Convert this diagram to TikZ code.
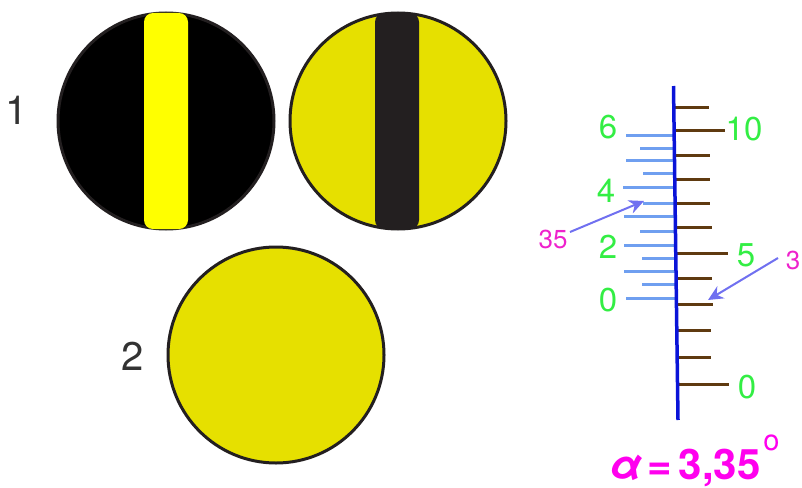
\documentclass[tikz,border=0pt]{standalone}
\usepackage{fontspec}
\setmainfont{TeX Gyre Heros}
\usetikzlibrary{arrows.meta}
\definecolor{diskyellow}{HTML}{E6E000}
\definecolor{stripyellow}{HTML}{FFFF00}
\definecolor{stripdark}{HTML}{231F20}
\definecolor{scaleblue}{HTML}{0A14D8}
\definecolor{vernierblue}{HTML}{6F9FF0}
\definecolor{tickbrown}{HTML}{5F3A10}
\definecolor{labelgreen}{HTML}{33EE44}
\definecolor{labelpink}{HTML}{EE22CC}
\definecolor{resultpink}{HTML}{FF00EE}
\definecolor{pointerblue}{HTML}{7070F0}
\definecolor{numgray}{HTML}{333333}

\begin{document}
\begin{tikzpicture}[
    x=1pt, y=-1pt,
    disk/.style={circle, draw=stripdark, line width=3pt, minimum size=216pt, inner sep=0pt},
    strip/.style={rectangle, rounded corners=9pt, minimum width=44pt, minimum height=216pt, inner sep=0pt},
    num/.style={font=\fontsize{40}{40}\selectfont, text=numgray, inner sep=0pt},
    green/.style={font=\fontsize{33}{33}\selectfont, text=labelgreen, inner sep=0pt},
    pink/.style={font=\fontsize{26}{26}\selectfont, text=labelpink, inner sep=0pt},
    pointer/.style={draw=pointerblue, line width=2pt, -{Stealth[length=15pt,width=14pt]}}
]
\useasboundingbox (0,0) rectangle (802,487);

\node (d1) [disk, fill=black] at (166,121) {};
\node (s1) [strip, fill=stripyellow] at (166,121) {};
\node (d2) [disk, fill=diskyellow] at (398,121) {};
\node (s2) [strip, fill=stripdark] at (397,121) {};
\node (d3) [disk, fill=diskyellow] at (276,355) {};

\node (n1) [num] at (17,110) {1};
\node (n2) [num] at (133,356) {2};

\foreach \y/\x in {107/709,130/725,155/710,179/710,203/710,227/712,253/728,278/712,304/713,330/711,357/711,384/729}
    \draw [tickbrown, line width=3pt] ({674+(\y-86)*0.0128},\y) -- (\x,\y);
\foreach \y/\x in {135/626,148/640,160/626,173/643,187/623,203/643,216/624,231/640,245/624,258/642,271/624,284/642,298/626}
    \draw [vernierblue, line width=3pt] ({674+(\y-86)*0.0128},\y) -- (\x,\y);

\coordinate (top) at (673.5,86);
\coordinate (bot) at (678,420);
\draw [scaleblue, line width=3.5pt] (top) -- (bot);

\node (v6) [green] at (608,127) {6};
\node (v4) [green] at (606,191) {4};
\node (v2) [green] at (608,247) {2};
\node (v0) [green] at (608,300) {0};
\node (m10) [green] at (744,129) {10};
\node (m5) [green] at (746,255) {5};
\node (m0) [green] at (747,387) {0};

\node (l35) [pink] at (553,239) {35};
\node (l3) [pink] at (793,260) {3};

\coordinate (t35) at (570,232);
\coordinate (p35) at (644,201);
\coordinate (t3) at (778,258);
\coordinate (p3) at (708,300);
\draw [pointer] (t35) -- (p35);
\draw [pointer] (t3) -- (p3);

\node (result) [anchor=base west, inner sep=0pt, text=resultpink, font=\fontsize{42}{42}\selectfont\bfseries] at (609,479) {\textit{α}\hspace{5pt}=\hspace{7pt}3,35\hspace{3pt}\raisebox{29pt}{\fontsize{29}{29}\selectfont\mdseries o}};

\end{tikzpicture}
\end{document}
